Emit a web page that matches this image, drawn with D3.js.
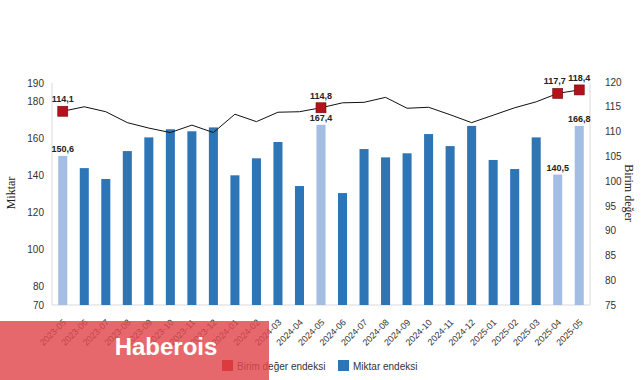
<!DOCTYPE html>
<html><head><meta charset="utf-8">
<script src="https://cdn.jsdelivr.net/npm/d3@7"></script>
<style>body{margin:0;background:#fff;}svg{display:block;font-family:"Liberation Sans",Arial,sans-serif;}</style>
</head><body>
<svg id="c" width="641" height="380"></svg>
<script>
const categories = ["2023-05","2023-06","2023-07","2023-08","2023-09","2023-10","2023-11","2023-12","2024-01","2024-02","2024-03","2024-04","2024-05","2024-06","2024-07","2024-08","2024-09","2024-10","2024-11","2024-12","2025-01","2025-02","2025-03","2025-04","2025-05"];
const miktar = [150.6,144.0,138.1,153.2,160.6,165.0,163.9,166.0,140.1,149.3,158.1,134.3,167.4,130.5,154.3,149.8,152.0,162.4,155.9,166.8,148.4,143.5,160.6,140.5,166.8];
const birim = [114.1,115.0,114.0,111.8,110.7,109.8,111.3,109.8,113.5,112.0,113.9,114.0,114.8,115.8,115.9,116.9,114.7,114.9,113.4,111.8,113.3,114.8,116.0,117.7,118.4];
const highlighted = ["2023-05","2024-05","2025-04","2025-05"];
const leftTicks = [70,80,100,120,140,160,180,190];
const rightTicks = [75,80,85,90,95,100,105,110,115,120];
const fmt = v => d3.format(".1f")(v).replace(".", ",");

const svg = d3.select("#c");
const L = 52, R = 590, T = 83, B = 305;
const x = d3.scaleBand().domain(categories).range([L, R]).paddingInner(0.58).paddingOuter(0.29);
const yL = d3.scaleLinear().domain([70,190]).range([B, T]);
const yR = d3.scaleLinear().domain([75,120]).range([B, 82]);

// frame lines
svg.append("line").attr("x1",L).attr("x2",L).attr("y1",T).attr("y2",B).attr("stroke","#d9d9d9");
svg.append("line").attr("x1",R).attr("x2",R).attr("y1",T).attr("y2",B).attr("stroke","#d9d9d9");
svg.append("line").attr("x1",L).attr("x2",R).attr("y1",B).attr("y2",B).attr("stroke","#d9d9d9");

// axes
const axL = svg.append("g").attr("transform",`translate(${L},0)`)
  .call(d3.axisLeft(yL).tickValues(leftTicks).tickSize(0).tickPadding(8));
const axR = svg.append("g").attr("transform",`translate(${R},0)`)
  .call(d3.axisRight(yR).tickValues(rightTicks).tickSize(0).tickPadding(15));
[axL, axR].forEach(a => { a.select(".domain").remove(); a.selectAll("text").attr("font-size",10).attr("fill","#333").attr("font-family","Liberation Sans, Arial, sans-serif"); });

const axX = svg.append("g").attr("transform",`translate(0,${B})`)
  .call(d3.axisBottom(x).tickSize(0).tickPadding(0));
axX.select(".domain").remove();
axX.selectAll("text").attr("font-size",9).attr("fill","#333")
  .attr("font-family","Liberation Sans, Arial, sans-serif")
  .attr("text-anchor","end")
  .attr("transform", "translate(4,18) rotate(-45)")
  .attr("dy","0").attr("x",0).attr("y",0);

// axis titles
svg.append("text").attr("transform","translate(15,193) rotate(-90)").attr("text-anchor","middle")
  .attr("font-family","Liberation Serif, serif").attr("font-size",12).attr("fill","#222").text("Miktar");
svg.append("text").attr("transform","translate(625,193) rotate(90)").attr("text-anchor","middle")
  .attr("font-family","Liberation Serif, serif").attr("font-size",12).attr("fill","#222").text("Birim değer");

// bars
svg.append("g").selectAll("rect").data(categories).join("rect")
  .attr("x", d => x(d)).attr("width", x.bandwidth())
  .attr("y", (d,i) => yL(miktar[i])).attr("height", (d,i) => B - yL(miktar[i]))
  .attr("fill", d => highlighted.includes(d) ? "#a4bde3" : "#2e75b6");

// bar labels
svg.append("g").selectAll("text").data(categories.filter(d => highlighted.includes(d))).join("text")
  .attr("x", d => x(d) + x.bandwidth()/2).attr("y", d => yL(miktar[categories.indexOf(d)]) - 4)
  .attr("text-anchor","middle").attr("font-size",9).attr("font-weight","bold").attr("fill","#222")
  .text(d => fmt(miktar[categories.indexOf(d)]));

// line
const line = d3.line().x((d,i) => x(categories[i]) + x.bandwidth()/2).y(d => yR(d));
svg.append("path").datum(birim).attr("d", line).attr("fill","none").attr("stroke","#111").attr("stroke-width",1);

// markers
const mk = categories.filter(d => highlighted.includes(d));
svg.append("g").selectAll("rect").data(mk).join("rect")
  .attr("x", d => x(d) + x.bandwidth()/2 - 5).attr("y", d => yR(birim[categories.indexOf(d)]) - 5)
  .attr("width",10).attr("height",10).attr("fill","#b5111b").attr("stroke","#6b0a0f").attr("stroke-width",0.6);
svg.append("g").selectAll("text").data(mk).join("text")
  .attr("x", d => x(d) + x.bandwidth()/2 - (d === "2025-04" ? 3 : 0))
  .attr("y", d => yR(birim[categories.indexOf(d)]) - 9)
  .attr("text-anchor","middle").attr("font-size",9).attr("font-weight","bold").attr("fill","#222")
  .text(d => fmt(birim[categories.indexOf(d)]));

// legend
const lg = svg.append("g").attr("transform","translate(222,360)");
lg.append("rect").attr("width",11).attr("height",11).attr("fill","#c00000");
lg.append("text").attr("x",15).attr("y",9.5).attr("font-size",10).attr("fill","#333").text("Birim değer endeksi");
lg.append("rect").attr("x",116).attr("width",11).attr("height",11).attr("fill","#2e75b6");
lg.append("text").attr("x",131).attr("y",9.5).attr("font-size",10).attr("fill","#333").text("Miktar endeksi");

// watermark overlay
svg.append("rect").attr("x",0).attr("y",321).attr("width",269).attr("height",59).attr("fill","#e0474d").attr("opacity",0.82);
svg.append("text").attr("x",166).attr("y",355).attr("text-anchor","middle").attr("font-size",24).attr("font-weight","bold")
  .attr("fill","#fff").attr("font-family","Liberation Sans, Arial, sans-serif").text("Haberois");
</script>
</body></html>
